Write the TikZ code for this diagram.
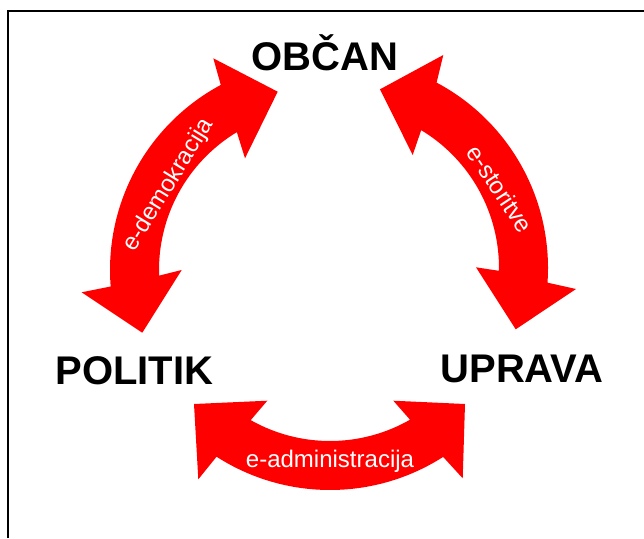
\documentclass[tikz,border=0pt]{standalone}
\usepackage{fontspec}
\setmainfont{Liberation Sans}
\usepackage{tikz}

\begin{document}
\begin{tikzpicture}[x=1pt, y=-1pt,
  akter/.style={font=\fontsize{40}{48}\selectfont\bfseries, inner sep=0pt},
  oznaka/.style={text=white, font=\fontsize{24}{29}\selectfont, inner sep=0pt}]
  \useasboundingbox (0,0) rectangle (644,538);
  % okvir
  \draw [line width=2pt] (8,538) -- (8,11) -- (644,11);

  % puščice
  \fill [red] ([shift={(320,270)}]-118.2:210) arc [start angle=-118.2, end angle=-184.5, radius=210]
    -- (81.7,292.3) -- (142.3,332.7) -- (181.7,270)
    -- ([shift={(320,270)}]-182:161) arc [start angle=-182, end angle=-121.1, radius=161]
    -- (245,158.3) -- (277.7,91.7) -- (213.3,58.3) -- cycle;
  \fill [red] ([shift={(338,268)}]-62:210) arc [start angle=-62, end angle=4, radius=210]
    -- (576,289) -- (515.7,329.3) -- (476,267.3)
    -- ([shift={(338,268)}]1:161) arc [start angle=1, end angle=-58.9, radius=161]
    -- (412.7,155) -- (380,89.3) -- (443.3,55) -- cycle;
  \fill [red] ([shift={(330,280)}]122.7:210) arc [start angle=122.7, end angle=57.4, radius=210]
    -- (462.7,478.3) -- (465,404) -- (393.3,400.7)
    -- ([shift={(330,280)}]60.2:161) arc [start angle=60.2, end angle=119.5, radius=161]
    -- (267.3,400.7) -- (194,404) -- (198.3,479.3) -- cycle;

  % akterji
  \node [akter, anchor=base] (obcan) at (325,70.5) {OBČAN};
  \node [akter, anchor=base] (politik) at (134.5,384) {POLITIK};
  \node [akter, anchor=base] (uprava) at (522,382) {UPRAVA};

  % oznake
  \node [oznaka, rotate=58.4] (edemo) at (169,185) {e-demokracija};
  \node [oznaka, rotate=-56.6] (estor) at (500,189) {e-storitve};
  \node [oznaka, anchor=base] (eadmin) at (330,467.3) {e-administracija};
\end{tikzpicture}
\end{document}
